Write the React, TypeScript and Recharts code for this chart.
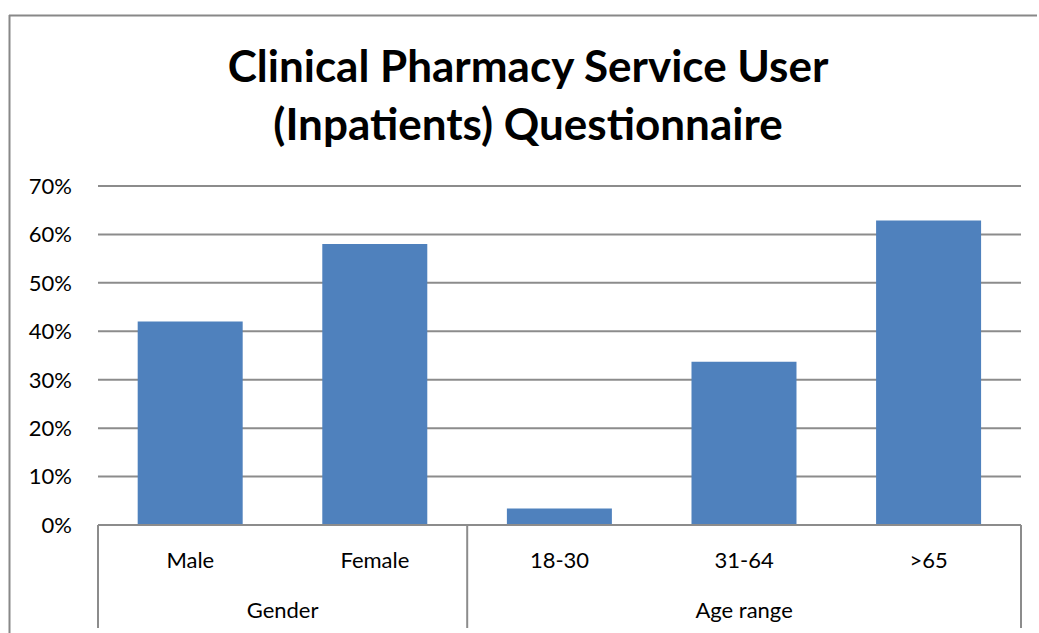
import React from 'react';
import { BarChart, Bar, XAxis, YAxis, CartesianGrid } from 'recharts';

// 質問票の回答割合 (%)
const categories = ['Male', 'Female', '18-30', '31-64', '>65'];
const values = [42, 58, 3.4, 33.7, 62.9];
const groups = ['Gender', 'Gender', 'Age range', 'Age range', 'Age range'];
const yTicks = [0, 10, 20, 30, 40, 50, 60, 70];
const titleLines = ['Clinical Pharmacy Service User', '(Inpatients) Questionnaire'];

const W = 1039;
const H = 633;
const PLOT_LEFT = 98;
const PLOT_RIGHT = 1021;
const BAND = (PLOT_RIGHT - PLOT_LEFT) / categories.length;
const FONT = 'Lato, "Open Sans", sans-serif';
const GRID = '#8c8c8c';

const chartData = categories.map((name, i) => ({ name, value: values[i], group: groups[i] }));

// 2段カテゴリ軸 (項目名 + グループ名 + 区切り線)
const CategoryTick = (props: any) => {
  const { x, y, payload } = props;
  const i = payload.index as number;
  const group = groups[i];
  const isFirst = i === 0 || groups[i - 1] !== group;
  const isLast = i === groups.length - 1;
  const count = groups.filter((g) => g === group).length;
  const left = x - BAND / 2;
  return (
    <g>
      <text x={x} y={y + 43} textAnchor="middle" fontSize={22} fontFamily={FONT} fill="#000">
        {payload.value}
      </text>
      {isFirst && (
        <>
          <line x1={left} x2={left} y1={y} y2={y + 103} stroke={GRID} strokeWidth={2} />
          <text
            x={left + (count * BAND) / 2}
            y={y + 93}
            textAnchor="middle"
            fontSize={22}
            fontFamily={FONT}
            fill="#000"
          >
            {group}
          </text>
        </>
      )}
      {isLast && (
        <line x1={x + BAND / 2} x2={x + BAND / 2} y1={y} y2={y + 103} stroke={GRID} strokeWidth={2} />
      )}
    </g>
  );
};

export default function App() {
  return (
    <div style={{ position: 'absolute', left: 0, top: 0, width: W, height: H, background: '#fff', overflow: 'hidden' }}>
      <BarChart
        width={W}
        height={H}
        data={chartData}
        margin={{ top: 186, right: W - PLOT_RIGHT, left: 0, bottom: 0 }}
        barCategoryGap="21.5%"
      >
        {/* 外枠 (左と上のみ) */}
        <line x1={9.5} x2={9.5} y1={15} y2={H} stroke="#888" strokeWidth={2} />
        <line x1={9} x2={W - 2} y1={15.5} y2={15.5} stroke="#888" strokeWidth={2} />
        {titleLines.map((line, i) => (
          <text
            key={line}
            x={528}
            y={82 + i * 58}
            textAnchor="middle"
            fontSize={44}
            fontWeight="bold"
            fontFamily={FONT}
            fill="#000"
          >
            {line}
          </text>
        ))}
        <CartesianGrid vertical={false} stroke={GRID} strokeWidth={2} />
        <XAxis
          dataKey="name"
          height={H - 525}
          tickLine={false}
          tickSize={0}
          tickMargin={0}
          axisLine={{ stroke: GRID, strokeWidth: 2 }}
          tick={<CategoryTick />}
          interval={0}
        />
        <YAxis
          width={PLOT_LEFT}
          domain={[0, 70]}
          ticks={yTicks}
          tickFormatter={(v) => `${v}%`}
          tickLine={false}
          axisLine={false}
          tickSize={0}
          tickMargin={26}
          tick={{ fontSize: 22, fontFamily: FONT, fill: '#000' }}
        />
        <Bar dataKey="value" fill="#4F81BD" isAnimationActive={false} />
      </BarChart>
    </div>
  );
}
